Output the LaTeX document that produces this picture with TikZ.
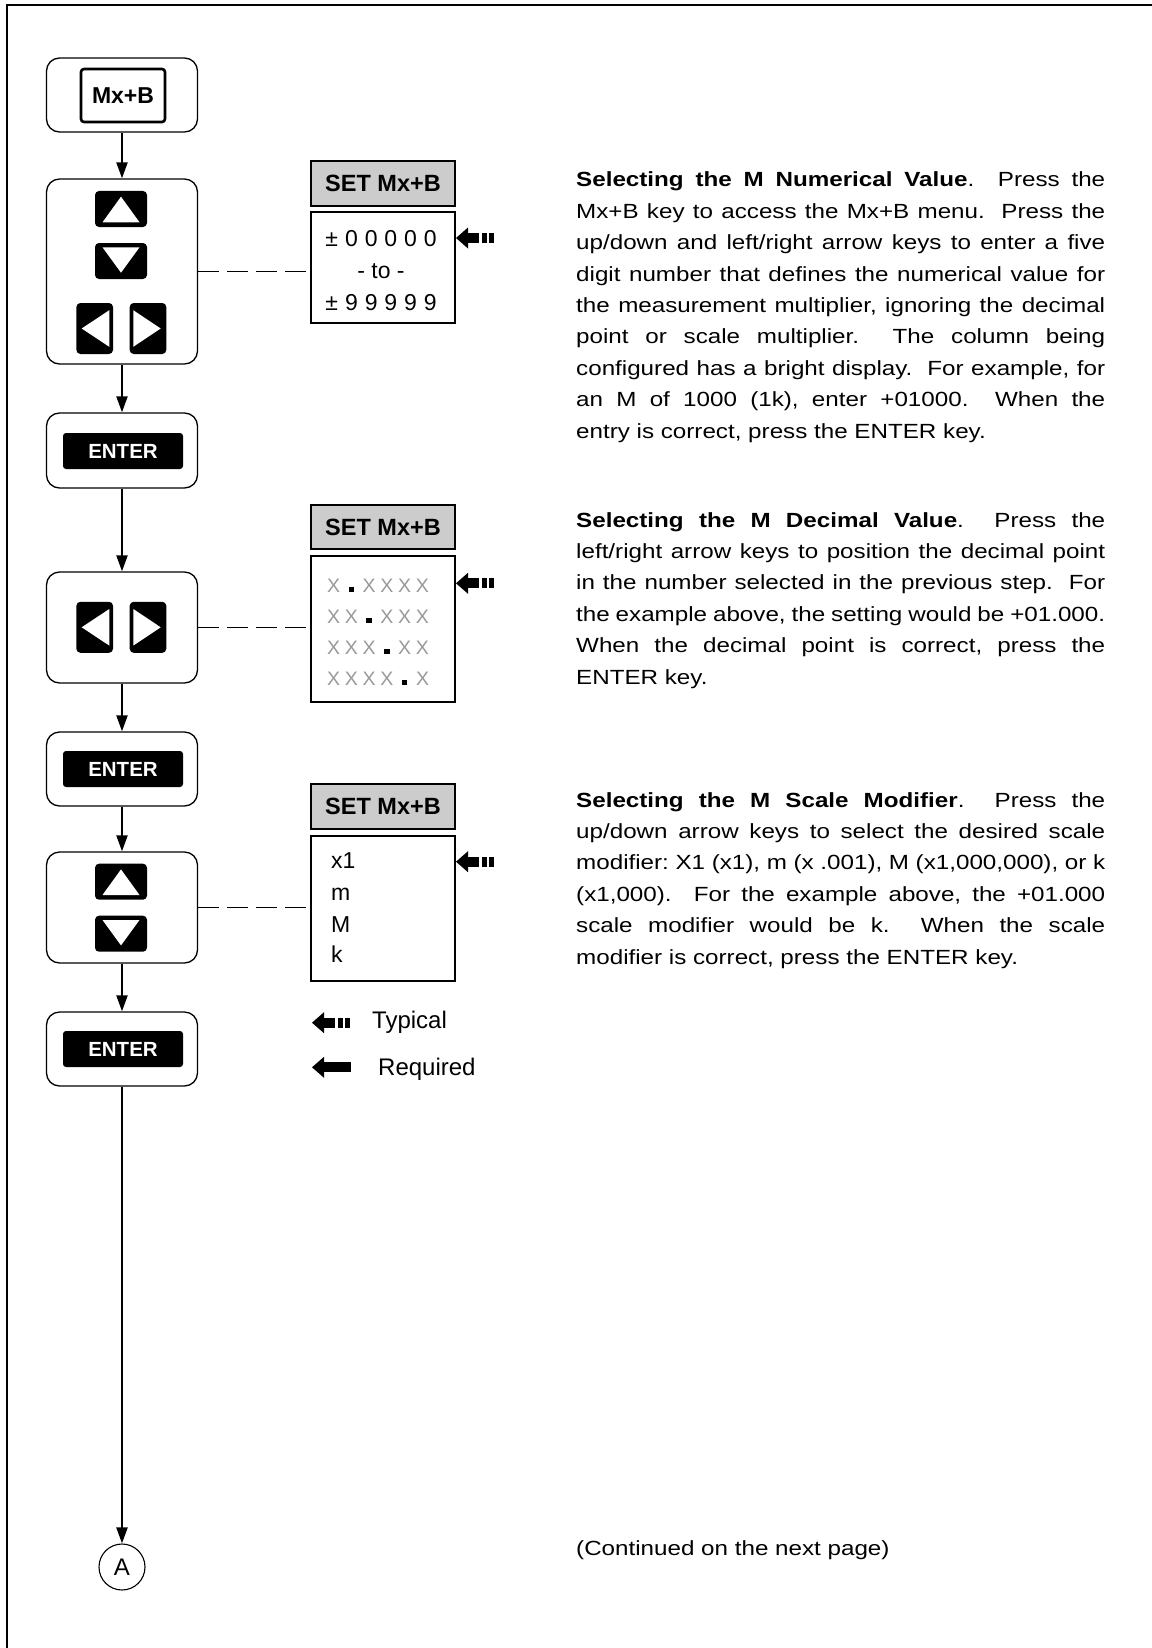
\documentclass[tikz,border=0pt]{standalone}
\usepackage{fontspec}
\setmainfont{Liberation Sans}
\newfontfamily\parfam[FakeStretch=1.18]{Liberation Sans}
\usetikzlibrary{arrows.meta}
\definecolor{hdrgray}{HTML}{CCCCCC}
\definecolor{xgray}{HTML}{999999}
\newcommand\cel[2][19.7pt]{\makebox[#1]{#2}}
\newcommand\xc{\cel[17.8pt]{X}}
\newcommand\dc{\cel[17.8pt]{\textcolor{black}{\rule[0pt]{5.5pt}{5.5pt}}}}
\newcommand\jline[1]{\hbox to 529pt{#1}}
\newcommand\lastline[1]{\hbox{#1}}
\newcommand\parafont{\parfam\fontsize{20.5}{31.4}\selectfont\frenchspacing}
\begin{document}
\begin{tikzpicture}[x=1pt,y=-1pt,
  stepbox/.style={draw, line width=1.3pt, rounded corners=13pt, minimum width=151pt, inner sep=0pt},
  mxkey/.style={draw, line width=2.6pt, rounded corners=3pt, minimum width=84pt, minimum height=53pt, inner sep=0pt, font=\fontsize{23}{23}\selectfont\bfseries},
  enterkey/.style={fill=black, text=white, rounded corners=3pt, minimum width=120pt, minimum height=36pt, inner sep=0pt, font=\fontsize{20.5}{20.5}\selectfont\bfseries},
  hdr/.style={draw, fill=hdrgray, line width=1.3pt, minimum width=144pt, minimum height=45pt, inner sep=0pt, font=\fontsize{23.5}{23.5}\selectfont\bfseries},
  disp/.style={draw, line width=1.3pt, minimum width=144pt, inner sep=0pt},
  valtext/.style={inner sep=0pt, font=\fontsize{23}{23}\selectfont},
  legtext/.style={inner sep=0pt, anchor=base west, font=\fontsize{24}{24}\selectfont},
  xtext/.style={inner sep=0pt, text=xgray, font=\fontsize{19.5}{19.5}\selectfont},
  para/.style={inner sep=0pt, anchor=base west},
  flow/.style={line width=2.2pt, -{Triangle[width=11pt,length=16pt]}},
  dashlink/.style={line width=1.1pt, dash pattern=on 21pt off 8pt},
  upkey/.pic={\fill[black, rounded corners=4pt] (-26,-18) rectangle (26,18);
              \fill[white] (-18.5,13.3) -- (0,-12.3) -- (18.5,13.3) -- cycle;},
  downkey/.pic={\fill[black, rounded corners=4pt] (-26,-18) rectangle (26,18);
              \fill[white] (-18.5,-13.7) -- (0,11.7) -- (18.5,-13.7) -- cycle;},
  leftkey/.pic={\fill[black, rounded corners=4pt] (-18.3,-25.5) rectangle (18.3,25.5);
              \fill[white] (-13,0) -- (14.6,-18.3) -- (14.6,18.3) -- cycle;},
  rightkey/.pic={\fill[black, rounded corners=4pt] (-18.3,-25.5) rectangle (18.3,25.5);
              \fill[white] (12.7,0) -- (-14.7,-18.3) -- (-14.7,18.3) -- cycle;},
  typarrow/.pic={\fill (0,0) -- (12,-10.5) -- (12,10.5) -- cycle;
              \fill (11.5,-5) rectangle (22.5,5);
              \fill (25.5,-5) rectangle (30.5,5);
              \fill (33,-5) rectangle (38,5);},
  reqarrow/.pic={\fill (0,0) -- (12,-10.5) -- (12,10.5) -- cycle;
              \fill (11.5,-5) rectangle (39,5);}
]
\useasboundingbox (0,0) rectangle (1151,1648);
\fill[white] (0,0) rectangle (1151,1648);
% frame
\draw[line width=2.2pt] (1153,5) -- (7,5) -- (7,1650);

% flow column
\node[stepbox, minimum height=74pt] (s1) at (122,95) {};
\node[mxkey] (kmx) at (123,95.5) {Mx+B};
\node[stepbox, minimum height=185pt] (s2) at (122,271.5) {};
\pic at (121,209) {upkey};
\pic at (121,261) {downkey};
\pic at (94.7,328.5) {leftkey};
\pic at (148,328.5) {rightkey};
\node[stepbox, minimum height=75pt] (s3) at (122,450.5) {};
\node[enterkey] (e1) at (123,451) {ENTER};
\node[stepbox, minimum height=111pt] (s4) at (122,627.5) {};
\pic at (94.7,627.3) {leftkey};
\pic at (148,627.3) {rightkey};
\node[stepbox, minimum height=74pt] (s5) at (122,769) {};
\node[enterkey] (e2) at (123,769) {ENTER};
\node[stepbox, minimum height=111pt] (s6) at (122,907.5) {};
\pic at (121,881.7) {upkey};
\pic at (121,933.7) {downkey};
\node[stepbox, minimum height=74pt] (s7) at (122,1049) {};
\node[enterkey] (e3) at (123,1049) {ENTER};
\node[draw, circle, line width=1.1pt, minimum size=46pt, inner sep=0pt, font=\fontsize{24}{24}\selectfont] (A) at (122,1567) {A};

\draw[flow] (s1) -- (s2);
\draw[flow] (s2) -- (s3);
\draw[flow] (s3) -- (s4);
\draw[flow] (s4) -- (s5);
\draw[flow] (s5) -- (s6);
\draw[flow] (s6) -- (s7);
\draw[flow] (s7) -- (A);

% display 1
\node[hdr] (h1) at (383,183.5) {SET Mx+B};
\node[disp, minimum height=111pt] (d1) at (383,267.5) {};
\node[valtext, anchor=base] (v1a) at (381,246.5) {\cel{±}\cel{0}\cel{0}\cel{0}\cel{0}\cel{0}};
\node[valtext, anchor=base] (v1b) at (381,278) {- to -};
\node[valtext, anchor=base] (v1c) at (381,310) {\cel{±}\cel{9}\cel{9}\cel{9}\cel{9}\cel{9}};
\draw[dashlink] (s2.east) -- (s2.east -| d1.west);
\pic at (456,238) {typarrow};

% display 2
\node[hdr, minimum height=44pt] (h2) at (383,527) {SET Mx+B};
\node[disp, minimum height=146pt] (d2) at (383,629) {};
\node[xtext, anchor=base west] (x1) at (324.4,592) {\xc\dc\xc\xc\xc\xc};
\node[xtext, anchor=base west] (x2) at (324.4,623) {\xc\xc\dc\xc\xc\xc};
\node[xtext, anchor=base west] (x3) at (324.4,654) {\xc\xc\xc\dc\xc\xc};
\node[xtext, anchor=base west] (x4) at (324.4,685) {\xc\xc\xc\xc\dc\xc};
\draw[dashlink] (s4.east) -- (s4.east -| d2.west);
\pic at (456,583.3) {typarrow};

% display 3
\node[hdr] (h3) at (383,806.5) {SET Mx+B};
\node[disp, minimum height=145pt] (d3) at (383,908.5) {};
\node[valtext, anchor=base west] (m1) at (331,868) {x1};
\node[valtext, anchor=base west] (m2) at (331,900) {m};
\node[valtext, anchor=base west] (m3) at (331,932) {M};
\node[valtext, anchor=base west] (m4) at (331,962) {k};
\draw[dashlink] (s6.east) -- (s6.east -| d3.west);
\pic at (456,861.7) {typarrow};

% legend
\pic at (312,1022.7) {typarrow};
\node[legtext] (ltyp) at (372,1028) {Typical};
\pic at (312,1067.3) {reqarrow};
\node[legtext] (lreq) at (378,1075) {Required};

% paragraphs
\node[para] (p1) at (576,187) {\parbox[t]{529pt}{\parafont
\jline{\textbf{Selecting the M Numerical Value}.\ \ Press the}
\jline{Mx+B key to access the Mx+B menu.\ \ Press the}
\jline{up/down and left/right arrow keys to enter a five}
\jline{digit number that defines the numerical value for}
\jline{the measurement multiplier, ignoring the decimal}
\jline{point or scale multiplier.\ \ The column being}
\jline{configured has a bright display.\ \ For example, for}
\jline{an M of 1000 (1k), enter +01000.\ \ When the}
\lastline{entry is correct, press the ENTER key.}}};

\node[para] (p2) at (576,527) {\parbox[t]{529pt}{\parafont
\jline{\textbf{Selecting the M Decimal Value}.\ \ Press the}
\jline{left/right arrow keys to position the decimal point}
\jline{in the number selected in the previous step.\ \ For}
\jline{the example above, the setting would be +01.000.}
\jline{When the decimal point is correct, press the}
\lastline{ENTER key.}}};

\node[para] (p3) at (576,807) {\parbox[t]{529pt}{\parafont
\jline{\textbf{Selecting the M Scale Modifier}.\ \ Press the}
\jline{up/down arrow keys to select the desired scale}
\jline{modifier: X1 (x1), m (x .001), M (x1,000,000), or k}
\jline{(x1,000).\ \ For the example above, the +01.000}
\jline{scale modifier would be k.\ \ When the scale}
\lastline{modifier is correct, press the ENTER key.}}};

\node[para, font=\parafont] (cont) at (576,1555) {(Continued on the next page)};
\end{tikzpicture}
\end{document}
